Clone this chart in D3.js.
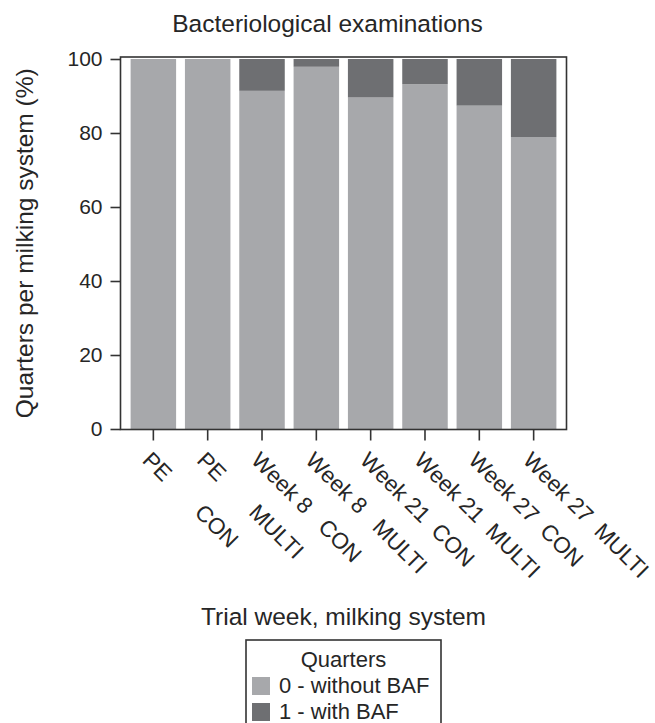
<!DOCTYPE html>
<html>
<head>
<meta charset="utf-8">
<script src="https://cdn.jsdelivr.net/npm/d3@7"></script>
<style>
  body { margin: 0; background: #fff; }
  svg text { font-family: "Liberation Sans", Arial, sans-serif; fill: #262626; }
</style>
</head>
<body>
<svg id="chart"></svg>
<script>
// Bacteriological examinations - stacked 100% bars

var trialWeek = ["PE", "PE", "Week 8", "Week 8", "Week 21", "Week 21", "Week 27", "Week 27"];
var milkingSystem = ["CON", "MULTI", "CON", "MULTI", "CON", "MULTI", "CON", "MULTI"];
var withoutBAF = [100, 100, 91.4, 97.9, 89.6, 93.2, 87.4, 78.9];
var withBAF = [0, 0, 8.6, 2.1, 10.4, 6.8, 12.6, 21.1];
var yTicks = [0, 20, 40, 60, 80, 100];
var legendLabels = ["0 - without BAF", "1 - with BAF"];

var width = 655, height = 723;
var colors = ["#a7a8ab", "#6e6f72"];

var svg = d3.select("#chart")
    .attr("width", width)
    .attr("height", height);

var plotLeft = 120.5, plotRight = 566.5, plotTop = 57, plotBottom = 429.5;

var rows = trialWeek.map(function(w, i) {
  return { key: i, label: w.padEnd(9, " ") + milkingSystem[i], without: withoutBAF[i], with: withBAF[i] };
});

var x = d3.scaleBand()
    .domain(rows.map(function(d) { return d.key; }))
    .range([plotLeft, plotRight])
    .paddingInner(0.1625)
    .paddingOuter(0.186);

var y = d3.scaleLinear()
    .domain([0, 100])
    .range([429, 59]);

var stack = d3.stack().keys(["without", "with"]);
var series = stack(rows);

// bars
svg.append("g")
  .selectAll("g")
  .data(series)
  .enter().append("g")
    .attr("fill", function(d, i) { return colors[i]; })
  .selectAll("rect")
  .data(function(d) { return d; })
  .enter().append("rect")
    .attr("x", function(d) { return x(d.data.key); })
    .attr("width", x.bandwidth())
    .attr("y", function(d) { return y(d[1]); })
    .attr("height", function(d) { return y(d[0]) - y(d[1]); });

// frame
svg.append("rect")
    .attr("x", plotLeft)
    .attr("y", plotTop)
    .attr("width", plotRight - plotLeft)
    .attr("height", plotBottom - plotTop)
    .attr("fill", "none")
    .attr("stroke", "#333")
    .attr("stroke-width", 1.6);

// y axis
var yAxis = svg.append("g")
    .attr("transform", "translate(" + plotLeft + ",0)")
    .call(d3.axisLeft(y).tickValues(yTicks).tickSize(10).tickPadding(8));
yAxis.select(".domain").remove();
yAxis.selectAll("line").attr("stroke", "#333").attr("stroke-width", 1.6);
yAxis.selectAll("text")
    .attr("font-size", 21)
    .attr("fill", "#262626");

// x axis
var xAxis = svg.append("g")
    .attr("transform", "translate(0," + plotBottom + ")")
    .call(d3.axisBottom(x).tickSize(11).tickFormat(function(k) { return rows[k].label; }));
xAxis.select(".domain").remove();
xAxis.selectAll("line").attr("stroke", "#333").attr("stroke-width", 1.6);
xAxis.selectAll("text")
    .attr("y", 0)
    .attr("dy", 0)
    .attr("font-size", 22.5)
    .attr("fill", "#262626")
    .attr("text-anchor", "start")
    .style("white-space", "pre")
    .attr("transform", "translate(-12,32) rotate(45)");

// titles
svg.append("text")
    .attr("x", width / 2)
    .attr("y", 32)
    .attr("text-anchor", "middle")
    .attr("font-size", 24.5)
    .text("Bacteriological examinations");

svg.append("text")
    .attr("transform", "translate(33," + ((plotTop + plotBottom) / 2) + ") rotate(-90)")
    .attr("text-anchor", "middle")
    .attr("font-size", 24.5)
    .text("Quarters per milking system (%)");

svg.append("text")
    .attr("x", (plotLeft + plotRight) / 2)
    .attr("y", 625)
    .attr("text-anchor", "middle")
    .attr("font-size", 24.5)
    .text("Trial week, milking system");

// legend
var lg = svg.append("g")
    .attr("transform", "translate(246,640)");

lg.append("rect")
    .attr("width", 195)
    .attr("height", 95)
    .attr("fill", "#fff")
    .attr("stroke", "#333")
    .attr("stroke-width", 1.6);

lg.append("text")
    .attr("x", 97.5)
    .attr("y", 27)
    .attr("text-anchor", "middle")
    .attr("font-size", 22)
    .text("Quarters");

var items = lg.selectAll(".item")
    .data(legendLabels)
    .enter().append("g")
    .attr("class", "item")
    .attr("transform", function(d, i) { return "translate(6," + (37 + i * 26) + ")"; });

items.append("rect")
    .attr("width", 18)
    .attr("height", 18)
    .attr("fill", function(d, i) { return colors[i]; });

items.append("text")
    .attr("x", 27)
    .attr("y", 16)
    .attr("font-size", 22)
    .text(function(d) { return d; });
</script>
</body>
</html>
